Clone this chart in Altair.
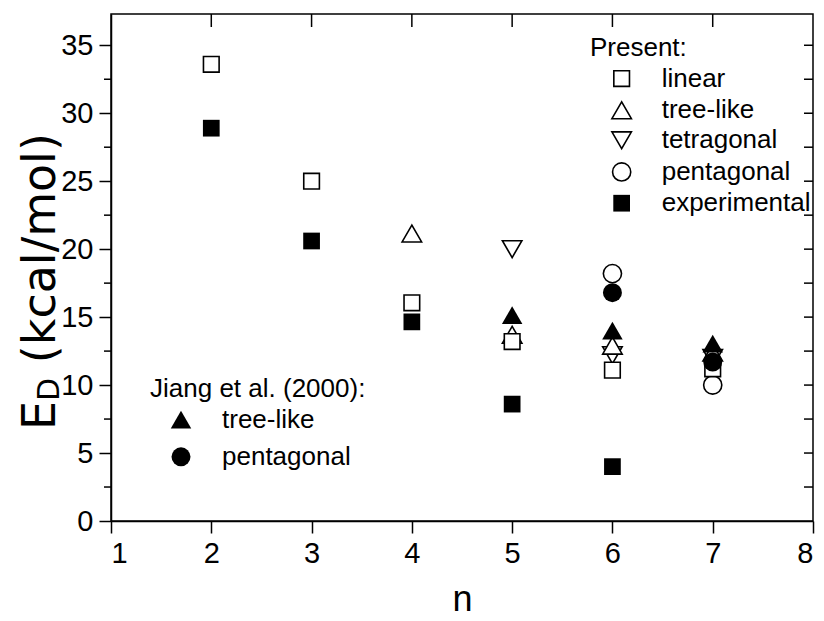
import altair as alt
import pandas as pd

# ---- data ----
n_linear = [2, 3, 4, 5, 6, 7]
e_linear = [33.6, 25.0, 16.05, 13.2, 11.1, 11.2]
n_tree = [4, 5, 6, 7]
e_tree = [21.15, 13.7, 12.9, 12.4]
n_tetra = [5, 6, 7]
e_tetra = [20.0, 12.2, 12.0]
n_penta = [6, 7]
e_penta = [18.2, 10.0]
n_exp = [2, 3, 4, 5, 6]
e_exp = [28.9, 20.6, 14.65, 8.6, 4.0]
n_jtree = [5, 6, 7]
e_jtree = [15.15, 14.0, 13.05]
n_jpenta = [6, 7]
e_jpenta = [16.8, 11.7]

x_ticks = [1, 2, 3, 4, 5, 6, 7, 8]
y_ticks = [0, 5, 10, 15, 20, 25, 30, 35]
y_minor = [2.5, 7.5, 12.5, 17.5, 22.5, 27.5, 32.5]
top_ticks = [2, 3, 4, 5, 6, 7]
right_ticks = [2.5, 5, 7.5, 10, 12.5, 15, 17.5, 20, 22.5, 25, 27.5, 30, 32.5, 35]

present_labels = ["linear", "tree-like", "tetragonal", "pentagonal", "experimental"]
jiang_labels = ["tree-like", "pentagonal"]

W, H = 702, 507
FONT = "Liberation Sans"
LF = 26

xs = alt.Scale(domain=[1, 8], nice=False, zero=False)
ys = alt.Scale(domain=[0, 37.3], nice=False, zero=False)


def df(nv, ev):
    return pd.DataFrame({"n": nv, "E": ev})


def pts(nv, ev, shape, size, filled):
    if filled:
        m = alt.Chart(df(nv, ev)).mark_point(shape=shape, size=size, filled=True,
                                             color="black", opacity=1)
    else:
        m = alt.Chart(df(nv, ev)).mark_point(shape=shape, size=size, filled=True,
                                             fill="white", stroke="black",
                                             strokeWidth=1.6, opacity=1)
    return m.encode(x=alt.X("n:Q", scale=xs), y=alt.Y("E:Q", scale=ys))


base = alt.Chart(df(n_linear, e_linear)).mark_point(opacity=0).encode(
    x=alt.X("n:Q", scale=xs,
            axis=alt.Axis(values=x_ticks, title="n", tickSize=12, labelPadding=6,
                          titlePadding=14, format="d")),
    y=alt.Y("E:Q", scale=ys,
            axis=alt.Axis(values=y_ticks, title=None, tickSize=12, labelPadding=6,
                          format="d")),
)

layers = [base]
layers.append(pts(n_penta, e_penta, "circle", 330, False))
layers.append(pts(n_tetra, e_tetra, "triangle-down", 380, False))
layers.append(pts(n_tree, e_tree, "triangle-up", 380, False))
layers.append(pts(n_linear, e_linear, "square", 245, False))
layers.append(pts(n_exp, e_exp, "square", 280, True))
layers.append(pts(n_jtree, e_jtree, "triangle-up", 420, True))
layers.append(pts(n_jpenta, e_jpenta, "circle", 360, True))

# minor / mirrored ticks
layers.append(alt.Chart(pd.DataFrame({"v": y_minor})).mark_rule(color="black", strokeWidth=1.5).encode(
    y=alt.Y("v:Q", scale=ys), x=alt.value(-7), x2=alt.value(0)))
layers.append(alt.Chart(pd.DataFrame({"v": right_ticks})).mark_rule(color="black", strokeWidth=1.5).encode(
    y=alt.Y("v:Q", scale=ys), x=alt.value(W - 9), x2=alt.value(W)))
layers.append(alt.Chart(pd.DataFrame({"v": top_ticks})).mark_rule(color="black", strokeWidth=1.5).encode(
    x=alt.X("v:Q", scale=xs), y=alt.value(0), y2=alt.value(13)))

# legends (placed in data coordinates)
p_rows = [32.55, 30.22, 28.01, 25.68, 23.38]
leg_p = pd.DataFrame({"lab": present_labels, "E": p_rows})
layers.append(alt.Chart(pd.DataFrame({"t": ["Present:"]})).mark_text(
    align="left", baseline="middle", font=FONT, fontSize=LF, color="black").encode(
    x=alt.datum(5.776, scale=xs), y=alt.datum(34.78, scale=ys), text="t:N"))
layers.append(alt.Chart(leg_p).mark_text(
    align="left", baseline="middle", font=FONT, fontSize=LF, color="black").encode(
    x=alt.datum(6.491, scale=xs), y=alt.Y("E:Q", scale=ys), text="lab:N"))
sym_x = [6.092] * 5
layers.append(pts([sym_x[0]], [p_rows[0]], "square", 245, False))
layers.append(pts([sym_x[1]], [p_rows[1]], "triangle-up", 380, False))
layers.append(pts([sym_x[2]], [p_rows[2]], "triangle-down", 380, False))
layers.append(pts([sym_x[3]], [p_rows[3]], "circle", 330, False))
layers.append(pts([sym_x[4]], [p_rows[4]], "square", 280, True))

j_rows = [7.45, 4.72]
leg_j = pd.DataFrame({"lab": jiang_labels, "E": j_rows})
layers.append(alt.Chart(pd.DataFrame({"t": ["Jiang et al. (2000):"]})).mark_text(
    align="left", baseline="middle", font=FONT, fontSize=LF, color="black").encode(
    x=alt.datum(1.389, scale=xs), y=alt.datum(9.72, scale=ys), text="t:N"))
layers.append(alt.Chart(leg_j).mark_text(
    align="left", baseline="middle", font=FONT, fontSize=LF, color="black").encode(
    x=alt.datum(2.107, scale=xs), y=alt.Y("E:Q", scale=ys), text="lab:N"))
layers.append(pts([1.698], [j_rows[0]], "triangle-up", 420, True))
layers.append(pts([1.698], [j_rows[1]], "circle", 360, True))

# y-axis title E_D (kcal/mol), rotated
TFONT = "DejaVu Sans"
TF = 46
y0 = 430 - 14
e_w = 0.632 * TF
d_f = 30
d_w = 0.770 * d_f
gap = 0.318 * TF
layers.append(alt.Chart(pd.DataFrame({"t": ["E"]})).mark_text(
    angle=270, align="left", baseline="alphabetic", font=TFONT, fontSize=TF, color="black").encode(
    x=alt.value(55 - 111), y=alt.value(y0), text="t:N"))
layers.append(alt.Chart(pd.DataFrame({"t": ["D"]})).mark_text(
    angle=270, align="left", baseline="alphabetic", font=TFONT, fontSize=d_f, color="black").encode(
    x=alt.value(59 - 111), y=alt.value(y0 - e_w), text="t:N"))
layers.append(alt.Chart(pd.DataFrame({"t": ["(kcal/mol)"]})).mark_text(
    angle=270, align="left", baseline="alphabetic", font=TFONT, fontSize=TF, color="black").encode(
    x=alt.value(55 - 111), y=alt.value(y0 - e_w - d_w - gap), text="t:N"))

chart = alt.layer(*layers).properties(
    width=W, height=H,
    background="white",
    autosize=alt.AutoSizeParams(type="none"),
    padding={"left": 111, "top": 14, "right": 11, "bottom": 100},
).configure_view(stroke="black", strokeWidth=1.5).configure_axis(
    domainColor="black", domainWidth=1.5, tickColor="black", tickWidth=1.5,
    labelColor="black", labelFont=FONT, labelFontSize=29, titleFont=FONT,
    titleFontSize=36, titleFontWeight="normal", titleColor="black", grid=False,
)

chart.save("out.html", embed_options={"renderer": "svg", "actions": False})
